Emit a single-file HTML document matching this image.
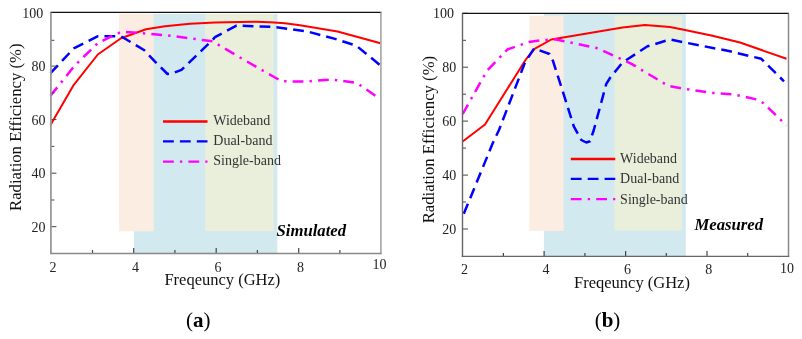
<!DOCTYPE html>
<html><head><meta charset="utf-8"><style>
html,body{margin:0;padding:0;background:#fff;width:802px;height:339px;overflow:hidden}
svg{display:block;will-change:transform}
text{font-family:"Liberation Serif",serif}
</style></head><body>
<svg width="802" height="339" viewBox="0 0 802 339">
<rect width="802" height="339" fill="#fff"/>
<rect x="134" y="14" width="143.3" height="239.0" fill="#d2e9ef"/>
<rect x="119.1" y="14" width="34.6" height="217.3" fill="#fcede2"/>
<rect x="205.1" y="14" width="68.5" height="217.2" fill="#eaefdc"/>
<polyline points="50.5,125.0 73.8,84.8 97.8,54.5 121.0,38.2 146.0,29.3 165.0,26.3 190.0,23.7 215.0,22.6 240.0,21.9 255.0,21.8 270.0,22.2 285.0,23.3 300.0,25.3 337.5,31.5 380.5,43.2" fill="none" stroke="#ff0000" stroke-width="2.0" stroke-linejoin="round"/>
<polyline points="50.5,73.2 73.8,48.4 97.5,36.3 121.0,36.3 144.4,50.3 155.0,61.7 167.5,74.0 172.0,73.6 181.5,69.8 212.0,40.5 215.0,37.2 236.5,25.6 275.0,27.0 307.7,31.6 334.2,38.6 356.5,45.8 380.5,65.5" fill="none" stroke="#0000ff" stroke-width="2.5" stroke-dasharray="10.8 6.1" stroke-linejoin="round"/>
<polyline points="50.5,95.8 74.8,65.5 97.5,43.4 116.5,33.6 124.5,31.8 166.9,35.3 212.5,41.3 240.0,57.5 275.0,77.5 282.5,81.3 305.0,81.5 332.0,79.5 357.0,83.0 378.0,97.5" fill="none" stroke="#ff00ff" stroke-width="2.5" stroke-dasharray="10.8 6.1 2.4 6.1" stroke-linejoin="round"/>
<line x1="163" y1="121.5" x2="207.5" y2="121.5" stroke="#ff0000" stroke-width="2.3"/>
<line x1="163" y1="141.3" x2="207.5" y2="141.3" stroke="#0000ff" stroke-width="2.3" stroke-dasharray="10.8 6.1"/>
<line x1="163" y1="161.7" x2="207.5" y2="161.7" stroke="#ff00ff" stroke-width="2.3" stroke-dasharray="10.8 6.1 2.4 6.1"/>
<text x="213.3" y="124.8" font-size="14" fill="#333">Wideband</text>
<text x="213.3" y="144.9" font-size="14" fill="#333">Dual-band</text>
<text x="213.3" y="165.0" font-size="14" fill="#333">Single-band</text>
<text x="276.5" y="235.8" font-size="16.7" font-weight="bold" font-style="italic" fill="#000">Simulated</text>
<line x1="50.9" y1="226.7" x2="56.4" y2="226.7" stroke="#444" stroke-width="1"/>
<text x="45.5" y="231.8" font-size="14" fill="#222" text-anchor="end">20</text>
<line x1="50.9" y1="200.0" x2="54.4" y2="200.0" stroke="#444" stroke-width="1"/>
<line x1="50.9" y1="173.2" x2="56.4" y2="173.2" stroke="#444" stroke-width="1"/>
<text x="45.5" y="178.3" font-size="14" fill="#222" text-anchor="end">40</text>
<line x1="50.9" y1="146.4" x2="54.4" y2="146.4" stroke="#444" stroke-width="1"/>
<line x1="50.9" y1="119.6" x2="56.4" y2="119.6" stroke="#444" stroke-width="1"/>
<text x="45.5" y="124.7" font-size="14" fill="#222" text-anchor="end">60</text>
<line x1="50.9" y1="92.8" x2="54.4" y2="92.8" stroke="#444" stroke-width="1"/>
<line x1="50.9" y1="66.1" x2="56.4" y2="66.1" stroke="#444" stroke-width="1"/>
<text x="45.5" y="71.2" font-size="14" fill="#222" text-anchor="end">80</text>
<line x1="50.9" y1="40.3" x2="54.4" y2="40.3" stroke="#444" stroke-width="1"/>
<line x1="50.9" y1="12.5" x2="56.4" y2="12.5" stroke="#444" stroke-width="1"/>
<text x="43.2" y="18.0" font-size="14" fill="#222" text-anchor="end">100</text>
<line x1="92.5" y1="253.5" x2="92.5" y2="250.0" stroke="#444" stroke-width="1.2"/>
<line x1="133.7" y1="253.5" x2="133.7" y2="248.0" stroke="#444" stroke-width="1.2"/>
<line x1="174.9" y1="253.5" x2="174.9" y2="250.0" stroke="#444" stroke-width="1.2"/>
<line x1="216.2" y1="253.5" x2="216.2" y2="248.0" stroke="#444" stroke-width="1.2"/>
<line x1="257.4" y1="253.5" x2="257.4" y2="250.0" stroke="#444" stroke-width="1.2"/>
<line x1="298.7" y1="253.5" x2="298.7" y2="248.0" stroke="#444" stroke-width="1.2"/>
<line x1="339.9" y1="253.5" x2="339.9" y2="250.0" stroke="#444" stroke-width="1.2"/>
<text x="53.0" y="271.7" font-size="14" fill="#222" text-anchor="middle">2</text>
<text x="135.5" y="271.7" font-size="14" fill="#222" text-anchor="middle">4</text>
<text x="218.0" y="271.7" font-size="14" fill="#222" text-anchor="middle">6</text>
<text x="300.5" y="271.7" font-size="14" fill="#222" text-anchor="middle">8</text>
<text x="379.6" y="269.2" font-size="14" fill="#222" text-anchor="middle">10</text>
<line x1="50.4" y1="12.4" x2="381.4" y2="12.4" stroke="#111" stroke-width="1.3"/>
<line x1="50.9" y1="12.4" x2="50.9" y2="253.5" stroke="#999" stroke-width="1.8"/>
<line x1="380.9" y1="12.4" x2="380.9" y2="253.5" stroke="#aaa" stroke-width="1.7"/>
<line x1="50.1" y1="253.5" x2="381.7" y2="253.5" stroke="#888" stroke-width="1.5"/>
<text x="0" y="0" transform="translate(21.0,127.2) rotate(-90)" font-size="16.7" fill="#111" text-anchor="middle">Radiation Efficiency (%)</text>
<text x="222.4" y="285" font-size="16.5" fill="#111" text-anchor="middle">Freqeuncy (GHz)</text>
<rect x="543.9" y="14" width="141.9" height="242.0" fill="#d2e9ef"/>
<rect x="529.4" y="15.6" width="34.2" height="215.4" fill="#fcede2"/>
<rect x="614.6" y="15.6" width="67.4" height="215.0" fill="#eaefdc"/>
<polyline points="462.7,141.5 485.0,124.5 526.3,58.8 534.5,48.8 551.3,39.5 622.5,27.5 645.0,25.0 670.0,27.0 685.0,30.0 712.5,35.8 740.0,42.5 786.5,58.8" fill="none" stroke="#ff0000" stroke-width="2.0" stroke-linejoin="round"/>
<polyline points="463.8,213.8 492.5,143.8 499.0,130.0 525.0,62.5 534.2,48.3 549.5,54.0 553.0,61.0 563.4,93.4 573.8,126.3 581.3,140.0 586.3,142.5 590.0,141.3 593.8,130.0 606.3,83.8 610.0,78.0 622.5,62.5 647.5,46.3 670.0,39.5 685.0,42.5 730.0,51.3 761.3,58.8 784.0,81.3" fill="none" stroke="#0000ff" stroke-width="2.5" stroke-dasharray="10.8 6.1" stroke-linejoin="round"/>
<polyline points="462.7,114.0 487.0,70.7 497.8,59.5 507.3,49.5 528.8,42.0 542.5,40.0 556.0,39.5 598.0,48.4 632.0,64.1 668.0,85.8 683.0,88.6 713.0,93.0 734.0,94.5 757.0,99.5 763.0,102.8 786.5,125.5" fill="none" stroke="#ff00ff" stroke-width="2.5" stroke-dasharray="10.8 6.1 2.4 6.1" stroke-linejoin="round"/>
<line x1="570.8" y1="159" x2="615.3" y2="159" stroke="#ff0000" stroke-width="2.3"/>
<line x1="570.8" y1="178.8" x2="615.3" y2="178.8" stroke="#0000ff" stroke-width="2.3" stroke-dasharray="10.8 6.1"/>
<line x1="570.8" y1="199.2" x2="615.3" y2="199.2" stroke="#ff00ff" stroke-width="2.3" stroke-dasharray="10.8 6.1 2.4 6.1"/>
<text x="620.1" y="163.3" font-size="14" fill="#333">Wideband</text>
<text x="620.1" y="183.4" font-size="14" fill="#333">Dual-band</text>
<text x="620.1" y="203.5" font-size="14" fill="#333">Single-band</text>
<text x="694.5" y="230.2" font-size="16.7" font-weight="bold" font-style="italic" fill="#000">Measured</text>
<line x1="462.5" y1="229.0" x2="468.0" y2="229.0" stroke="#444" stroke-width="1"/>
<text x="456.3" y="234.1" font-size="14" fill="#222" text-anchor="end">20</text>
<line x1="462.5" y1="202.0" x2="466.0" y2="202.0" stroke="#444" stroke-width="1"/>
<line x1="462.5" y1="175.1" x2="468.0" y2="175.1" stroke="#444" stroke-width="1"/>
<text x="456.3" y="180.2" font-size="14" fill="#222" text-anchor="end">40</text>
<line x1="462.5" y1="148.1" x2="466.0" y2="148.1" stroke="#444" stroke-width="1"/>
<line x1="462.5" y1="121.1" x2="468.0" y2="121.1" stroke="#444" stroke-width="1"/>
<text x="456.3" y="126.2" font-size="14" fill="#222" text-anchor="end">60</text>
<line x1="462.5" y1="94.2" x2="466.0" y2="94.2" stroke="#444" stroke-width="1"/>
<line x1="462.5" y1="67.2" x2="468.0" y2="67.2" stroke="#444" stroke-width="1"/>
<text x="456.3" y="72.3" font-size="14" fill="#222" text-anchor="end">80</text>
<line x1="462.5" y1="40.3" x2="466.0" y2="40.3" stroke="#444" stroke-width="1"/>
<line x1="462.5" y1="13.3" x2="468.0" y2="13.3" stroke="#444" stroke-width="1"/>
<text x="454.0" y="17.5" font-size="14" fill="#222" text-anchor="end">100</text>
<line x1="503.4" y1="256.4" x2="503.4" y2="252.89999999999998" stroke="#444" stroke-width="1.2"/>
<line x1="544.1" y1="256.4" x2="544.1" y2="250.89999999999998" stroke="#444" stroke-width="1.2"/>
<line x1="584.9" y1="256.4" x2="584.9" y2="252.89999999999998" stroke="#444" stroke-width="1.2"/>
<line x1="625.6" y1="256.4" x2="625.6" y2="250.89999999999998" stroke="#444" stroke-width="1.2"/>
<line x1="666.3" y1="256.4" x2="666.3" y2="252.89999999999998" stroke="#444" stroke-width="1.2"/>
<line x1="707.0" y1="256.4" x2="707.0" y2="250.89999999999998" stroke="#444" stroke-width="1.2"/>
<line x1="747.7" y1="256.4" x2="747.7" y2="252.89999999999998" stroke="#444" stroke-width="1.2"/>
<text x="464.5" y="274.2" font-size="14" fill="#222" text-anchor="middle">2</text>
<text x="545.9" y="274.2" font-size="14" fill="#222" text-anchor="middle">4</text>
<text x="627.4" y="274.2" font-size="14" fill="#222" text-anchor="middle">6</text>
<text x="708.8" y="274.2" font-size="14" fill="#222" text-anchor="middle">8</text>
<text x="786.9" y="272.7" font-size="14" fill="#222" text-anchor="middle">10</text>
<line x1="462.0" y1="13.4" x2="789.0" y2="13.4" stroke="#111" stroke-width="1.3"/>
<line x1="462.5" y1="13.4" x2="462.5" y2="256.4" stroke="#666" stroke-width="1.4"/>
<line x1="788.5" y1="13.4" x2="788.5" y2="256.4" stroke="#888" stroke-width="1.5"/>
<line x1="461.7" y1="256.4" x2="789.3" y2="256.4" stroke="#666" stroke-width="1.4"/>
<text x="0" y="0" transform="translate(433.5,139.6) rotate(-90)" font-size="16.7" fill="#111" text-anchor="middle">Radiation Efficiency (%)</text>
<text x="632" y="288" font-size="16.5" fill="#111" text-anchor="middle">Freqeuncy (GHz)</text>
<text x="198.3" y="326.5" font-size="21" fill="#000" text-anchor="middle">(<tspan font-weight="bold">a</tspan>)</text>
<text x="607.5" y="326.5" font-size="21" fill="#000" text-anchor="middle">(<tspan font-weight="bold">b</tspan>)</text>
</svg>
</body></html>
